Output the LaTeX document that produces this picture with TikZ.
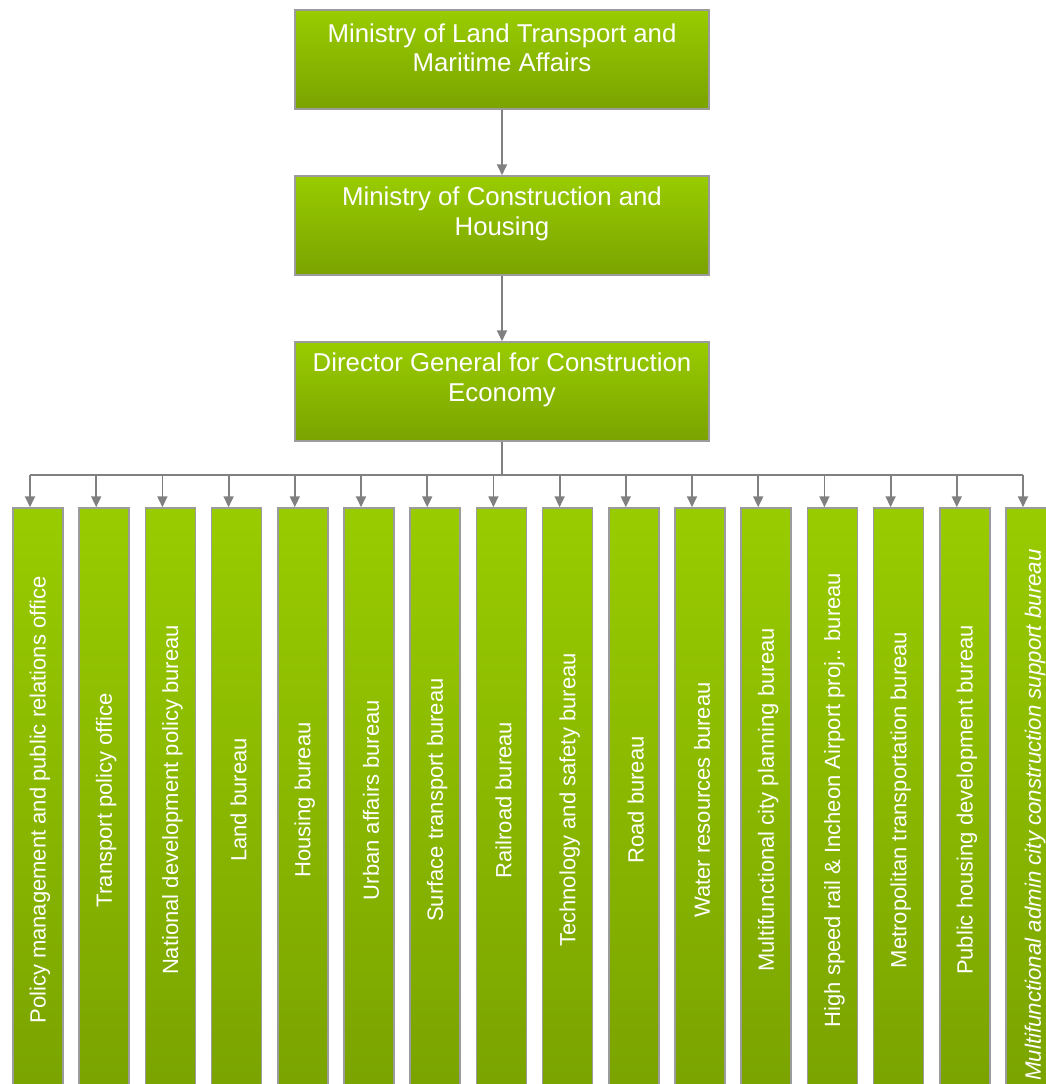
\documentclass[tikz,border=0pt]{standalone}
\usepackage{fontspec}
\setmainfont{Liberation Sans}
\usetikzlibrary{arrows.meta}
\definecolor{gtop}{RGB}{153,204,0}
\definecolor{gbot}{RGB}{122,163,0}
\definecolor{bordc}{RGB}{155,155,155}
\definecolor{connc}{RGB}{128,128,128}
\tikzset{
  topbox/.style={rectangle, draw=bordc, line width=1.5pt, top color=gtop, bottom color=gbot,
    minimum width=414pt, minimum height=99pt, inner sep=0pt},
  toptext/.style={text=white, align=center, font=\fontsize{25.8}{29.5}\selectfont, inner sep=0pt},
  botbox/.style={rectangle, draw=bordc, line width=1.5pt, top color=gtop, bottom color=gbot,
    minimum width=50pt, minimum height=584pt, inner sep=0pt},
  bottext/.style={text=white, rotate=90, font=\fontsize{22}{25}\selectfont, inner sep=0pt},
  conn/.style={draw=connc, line width=1.8pt, -{Triangle[length=11pt,width=10pt]}},
  bus/.style={draw=connc, line width=1.8pt}
}
\begin{document}
\begin{tikzpicture}[x=1pt,y=-1pt]
\useasboundingbox (0,0) rectangle (1046,1084);
\clip (0,0) rectangle (1046,1084);
\fill[white] (0,0) rectangle (1046,1084);
% top boxes
\node[topbox] (m1) at (502,59.5) {};
\node[topbox] (m2) at (502,225.5) {};
\node[topbox] (m3) at (502,391.5) {};
\node[toptext] (t1) at ([yshift=-38.5pt]m1.north) {Ministry of Land Transport and\\Maritime Affairs};
\node[toptext] (t2) at ([yshift=-38.5pt]m2.north) {Ministry of Construction and\\Housing};
\node[toptext] (t3) at ([yshift=-38.5pt]m3.north) {Director General for Construction\\Economy};
\draw[conn] (m1.south) -- (m2.north);
\draw[conn] (m2.south) -- (m3.north);
% bottom boxes
\foreach \t [count=\i from 0] in {Policy management and public relations office,
  Transport policy office, National development policy bureau, Land bureau,
  Housing bureau, Urban affairs bureau, Surface transport bureau, Railroad bureau,
  Technology and safety bureau, Road bureau, Water resources bureau,
  Multifunctional city planning bureau, High speed rail \& Incheon Airport proj.. bureau,
  Metropolitan transportation bureau, Public housing development bureau}{
  \node[botbox] (b\i) at ({38+66.2*\i},800) {};
  \node[bottext] (bt\i) at ([xshift=2pt]b\i.center) {\t};
}
\node[botbox] (b15) at ({38+66.2*15},800) {};
\node[bottext, font=\fontsize{22.3}{25}\selectfont\itshape] (bt15) at ([xshift=4pt,yshift=-15pt]b15.center) {Multifunctional admin city construction support bureau};
% bus connectors
\draw[bus] (m3.south) -- ++(0,33.5) coordinate (busc);
\draw[bus] ([xshift=-8pt]b0.north |- busc) -- ([xshift=-8pt]b15.north |- busc);
\foreach \i in {0,...,15}{
  \draw[conn] ([xshift=-8pt]b\i.north |- busc) -- ([xshift=-8pt]b\i.north);
}
\end{tikzpicture}
\end{document}
